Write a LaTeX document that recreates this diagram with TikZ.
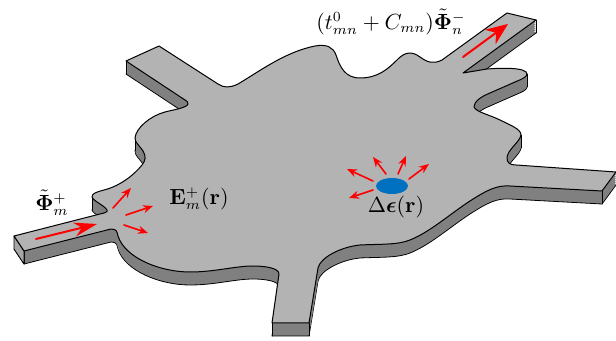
\documentclass[tikz,border=0pt]{standalone}
\usepackage{bm}
\usetikzlibrary{arrows.meta}
\definecolor{topgray}{HTML}{B3B3B3}
\definecolor{wallgray}{HTML}{808080}
\definecolor{endgray}{HTML}{A6A6A6}
\definecolor{spotblue}{HTML}{0070C0}
\tikzset{
	wall/.style={fill=wallgray, draw=black, line width=0.4pt},
	sfc/.style={fill=topgray, draw=black, line width=0.5pt},
	wave/.style={red, line width=0.8pt, -{Stealth[length=5pt,width=4pt]}},
	bigwave/.style={red, line width=1pt, -{Stealth[length=11.5pt,width=7pt]}},
	outwave/.style={red, line width=1pt, -{Stealth[length=11pt,width=9pt]}},
	lbl/.style={font=\fontsize{10.7}{13}\selectfont},
}
\def\padoutline{(14,236) -- (100,214)
	.. controls (105,213) and (108,212) .. (107,210)
	.. controls (104,205) and (93,201) .. (92,197)
	.. controls (92,193) and (97,192) .. (104,190)
	.. controls (120,186) and (134,175) .. (142,165)
	.. controls (146,160) and (146,156) .. (143,151)
	.. controls (140,146) and (135,143) .. (135,138)
	.. controls (136,128) and (150,116) .. (165,112)
	.. controls (172,110) and (187,108) .. (188,104)
	.. controls (188,102) and (187,101) .. (185,100)
	-- (126,61) -- (159,46) -- (218,84)
	.. controls (224,88) and (230,88) .. (238,84)
	.. controls (260,71) and (285,52) .. (315,46)
	.. controls (327,44) and (333,47) .. (336,55)
	.. controls (340,67) and (345,78) .. (360,78)
	.. controls (378,78) and (388,69) .. (398,59)
	.. controls (405,52) and (412,51) .. (420,57)
	.. controls (428,63) and (434,64) .. (442,60)
	-- (507,13) -- (536,20) -- (463,73) -- (487,69)
	.. controls (500,68) and (527,67) .. (527,74)
	.. controls (527,77) and (522,79) .. (515,82)
	-- (490,93)
	.. controls (480,97) and (474,102) .. (474,107)
	.. controls (476,112) and (490,115) .. (500,120)
	.. controls (510,125) and (521,129) .. (521,135)
	.. controls (520,142) and (507,150) .. (507,158)
	.. controls (507,163) and (510,165) .. (516,165)
	-- (616,172) -- (602,191) -- (510,186)
	.. controls (497,185) and (487,190) .. (470,201)
	.. controls (450,214) and (430,232) .. (410,240)
	.. controls (398,245) and (380,244) .. (360,245)
	.. controls (340,247) and (320,258) .. (318,268)
	-- (309,323) -- (272,323) -- (279,274)
	.. controls (279,268) and (265,266) .. (253,266)
	.. controls (235,266) and (215,272) .. (190,272)
	.. controls (160,272) and (125,258) .. (118,236)
	.. controls (117,232) and (117,229) .. (111,229)
	-- (24,251) -- cycle}
\begin{document}
\begin{tikzpicture}[x=0.5pt, y=-0.5pt, line join=round, line cap=round, >=stealth]
	\useasboundingbox (0,0) rectangle (616,341);
	\draw[wall, yshift=-6.5pt] \padoutline;
	\foreach \dz in {1,2,...,6}
		\fill[wallgray, yshift=-\dz pt] \padoutline;
	\foreach \xa/\ya in {24/251,272/323,309/323,602/191,616/172,536/20,126/61,135/138,92/197,521/135,527/74}
		\draw[line width=0.4pt] (\xa,\ya) -- ++(0,13);
	\draw[fill=endgray, line width=0.4pt] (14,236) -- (14,249) -- (24,264) -- (24,251) -- cycle;
	\draw[sfc] \padoutline;
	\fill[spotblue] (392,186) ellipse (16 and 8);
	\draw[wave] (373,181) -- (347,169);
	\draw[wave] (386,174) -- (373,157);
	\draw[wave] (398,174) -- (406,156);
	\draw[wave] (409,179) -- (429,164);
	\draw[wave] (373,190) -- (349,198);
	\draw[bigwave] (36,239) -- (97,224);
	\draw[wave] (113,208) -- (131,188);
	\draw[wave] (126,215) -- (153,206);
	\draw[wave] (124,225) -- (148,233);
	\draw[outwave] (463,57) -- (508,24);
	\node[lbl] (inlabel) at (52,203) {$\tilde{\bm{\Phi}}_m^+$};
	\node[lbl] (fieldlabel) at (199,199) {$\mathbf{E}_m^+(\mathbf{r})$};
	\node[lbl] (spotlabel) at (396,207) {$\Delta\bm{\epsilon}(\mathbf{r})$};
	\node[lbl] (outlabel) at (391,22) {$(t_{mn}^0+C_{mn})\tilde{\bm{\Phi}}_n^-$};
\end{tikzpicture}
\end{document}
